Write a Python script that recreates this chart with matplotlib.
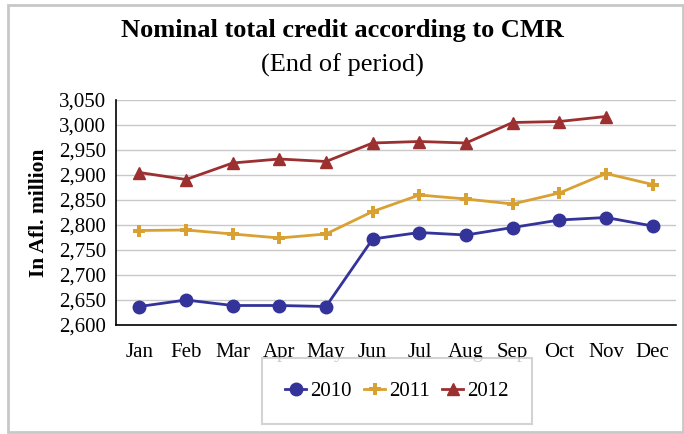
import numpy as np
from matplotlib import pyplot as plt
from matplotlib import rc
from matplotlib.patches import Rectangle
from matplotlib.ticker import FuncFormatter

rc('font', family='Liberation Serif')

months = ['Jan', 'Feb', 'Mar', 'Apr', 'May', 'Jun', 'Jul', 'Aug', 'Sep', 'Oct', 'Nov', 'Dec']
y2010 = [2637, 2650, 2639, 2639, 2637, 2772, 2785, 2780, 2795, 2810, 2815, 2798]
y2011 = [2789, 2790, 2782, 2774, 2782, 2827, 2860, 2852, 2842, 2864, 2903, 2881]
y2012 = [2905, 2891, 2924, 2932, 2927, 2964, 2967, 2964, 3005, 3007, 3017]

fig = plt.figure(figsize=(6.84, 4.34), dpi=100)
fig.patches.append(Rectangle((8/684, 2/434), 675/684, 427/434, transform=fig.transFigure,
                             fill=False, edgecolor='#c8c8c8', lw=2))

ax = fig.add_axes([116/684, 1 - 325/434, 560/684, 225/434])
x = np.arange(len(months))
l1, = ax.plot(x, y2010, '-o', color='#333399', lw=2, ms=9)
l2, = ax.plot(x, y2011, '-P', color='#d9a032', lw=2, ms=9, mew=0)
l3, = ax.plot(x[:len(y2012)], y2012, '-^', color='#9c3030', lw=2, ms=8)

ax.set_xlim(-0.5, len(months) - 0.5)
ax.set_ylim(2600, 3050)
ax.set_yticks(np.arange(2600, 3051, 50))
ax.yaxis.set_major_formatter(FuncFormatter(lambda v, p: f'{int(v):,}'))
ax.set_xticks(x)
ax.set_xticklabels(months)
ax.tick_params(axis='both', length=0, labelsize=15)
ax.tick_params(axis='x', pad=13)
ax.tick_params(axis='y', pad=7)
ax.grid(axis='y', color='#c8c8c8', lw=1)
ax.set_axisbelow(True)
for s in ['top', 'right']:
    ax.spines[s].set_visible(False)
ax.spines['left'].set_linewidth(1.2)
ax.spines['bottom'].set_linewidth(1.2)

ax.set_ylabel('In Afl. million', fontsize=15.5, fontweight='bold', labelpad=7)

fig.text(0.5, 1 - 31/434, 'Nominal total credit according to CMR', ha='center', va='center',
         fontsize=19, fontweight='bold')
fig.text(0.5, 1 - 65/434, '(End of period)', ha='center', va='center', fontsize=19)

leg = fig.legend([l1, l2, l3], ['2010', '2011', '2012'], ncol=3, loc='center',
                 bbox_to_anchor=(397/684, 1 - 391/434), frameon=True, fancybox=False,
                 fontsize=15, handlelength=1.0, handletextpad=0.2, columnspacing=0.6,
                 borderpad=1.1)
leg.get_frame().set_edgecolor('#c8c8c8')
leg.get_frame().set_linewidth(1.5)

fig.savefig('out.png')
